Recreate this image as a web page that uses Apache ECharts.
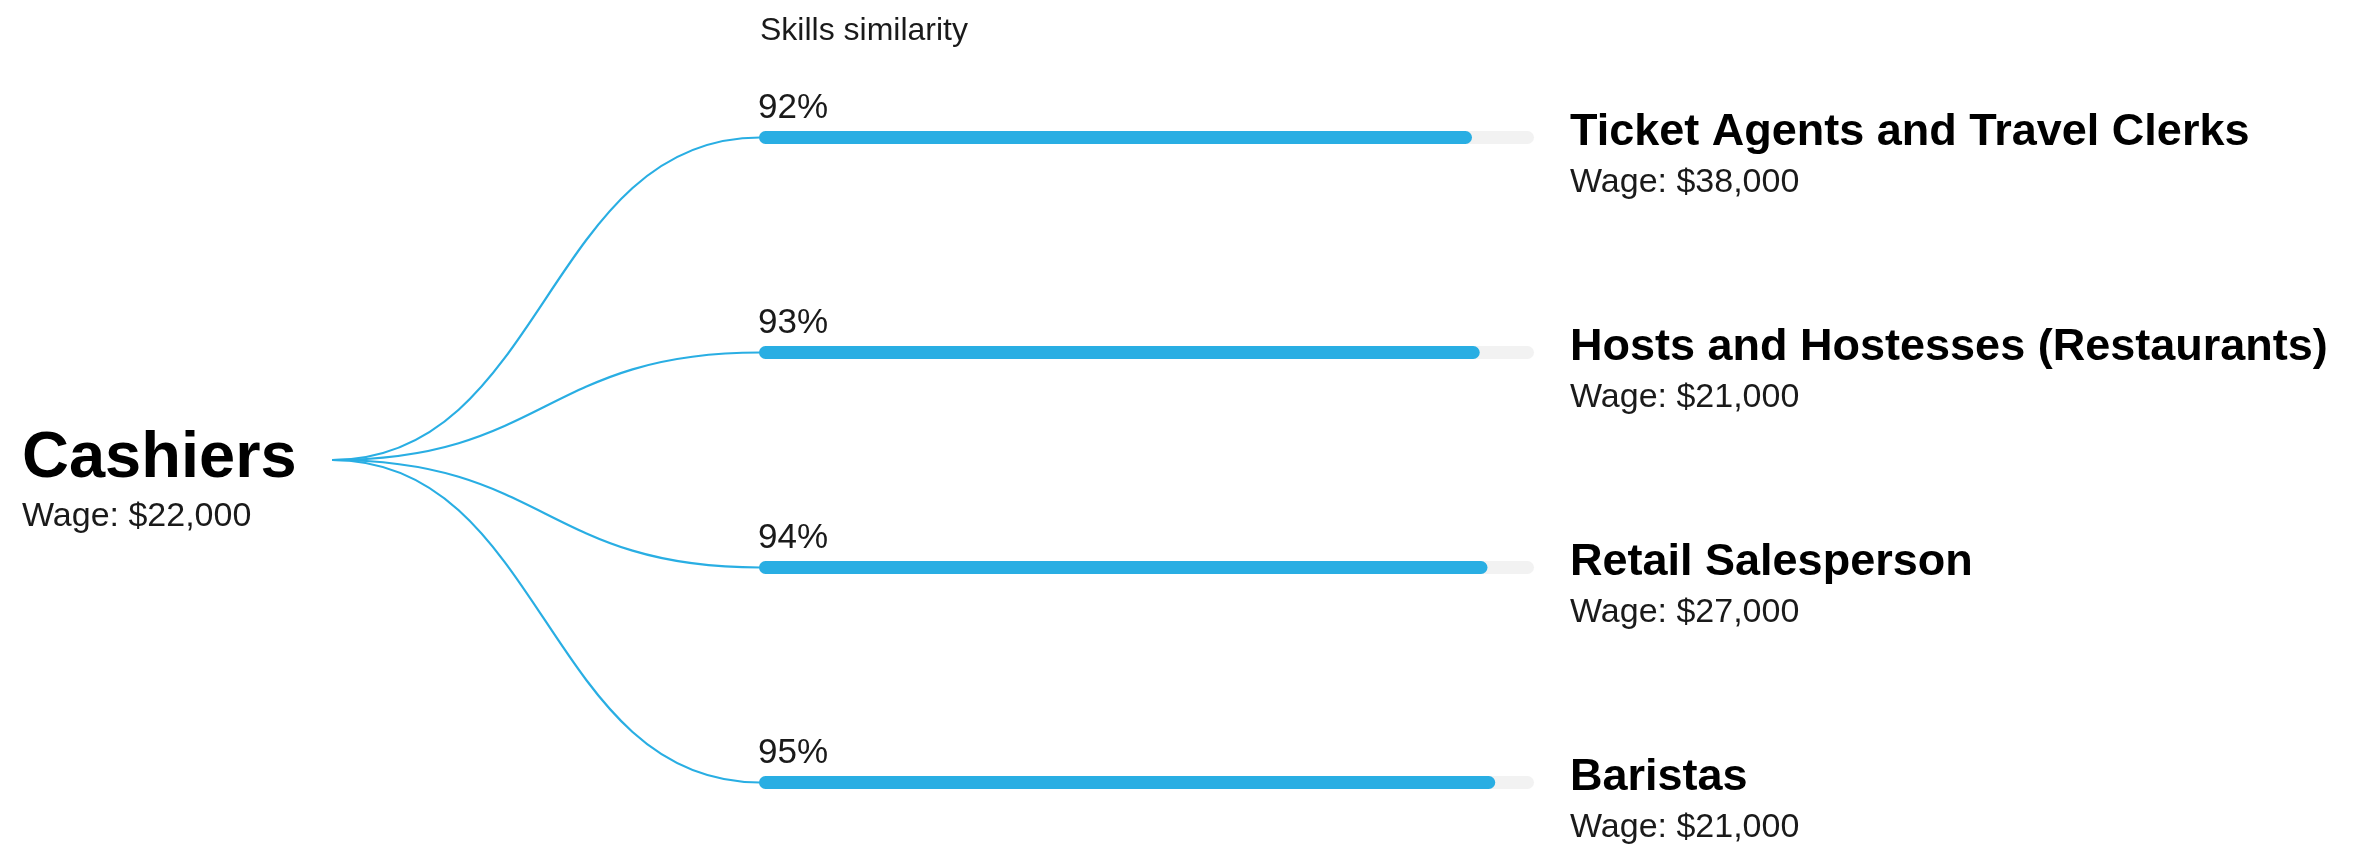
<!DOCTYPE html>
<html>
<head>
<meta charset="utf-8">
<script src="https://cdn.jsdelivr.net/npm/echarts@6/dist/echarts.min.js"></script>
<style>
  html, body { margin: 0; padding: 0; background: #fff; }
  #chart { width: 2353px; height: 846px; }
</style>
</head>
<body>
<div id="chart"></div>
<script>
const sourceName = 'Cashiers';
const sourceWage = 22000;
const occupations = ['Ticket Agents and Travel Clerks', 'Hosts and Hostesses (Restaurants)', 'Retail Salesperson', 'Baristas'];
const similarity = [92, 93, 94, 95];
const wages = [38000, 21000, 27000, 21000];

const blue = '#29aee3';
const font = 'Liberation Sans, Arial, sans-serif';

function wageText(w) {
    return 'Wage: $' + echarts.format.addCommas(w);
}

// source sits in the middle of the targets
const sourcePos = (occupations.length - 1) / 2;
var links = [];
for (var i = 0; i < occupations.length; i++) {
    links.push([sourcePos, i]);
}

var chartDom = document.getElementById('chart');
var myChart = echarts.init(chartDom, null, { renderer: 'canvas' });

var option = {
    backgroundColor: '#fff',
    animation: false,
    title: {
        text: 'Skills similarity',
        left: 760,
        top: 15,
        padding: 0,
        textStyle: { fontFamily: font, fontSize: 32, fontWeight: 'normal', color: '#1a1a1a' }
    },
    grid: [
        { left: 759, width: 775, top: 30, height: 860, outerBoundsMode: 'none', containLabel: false },
        { left: 332, width: 427, top: 30, height: 860, outerBoundsMode: 'none', containLabel: false }
    ],
    xAxis: [
        { gridIndex: 0, type: 'value', min: 0, max: 100, show: false },
        { gridIndex: 1, type: 'value', min: 0, max: 1, show: false }
    ],
    yAxis: [
        {
            gridIndex: 0,
            type: 'category',
            data: occupations,
            inverse: true,
            position: 'right',
            axisLine: { show: false },
            axisTick: { show: false },
            axisLabel: {
                margin: 36,
                align: 'left',
                padding: [40, 0, 0, 0],
                formatter: function (value, idx) {
                    return '{name|' + value + '}\n{wage|' + wageText(wages[idx]) + '}';
                },
                rich: {
                    name: { fontFamily: font, fontSize: 45, fontWeight: 'bold', color: '#000', lineHeight: 50 },
                    wage: { fontFamily: font, fontSize: 34, color: '#1a1a1a', lineHeight: 50 }
                }
            }
        },
        { gridIndex: 1, type: 'value', min: -0.5, max: 3.5, inverse: true, show: false }
    ],
    series: [
        {
            type: 'bar',
            xAxisIndex: 0,
            yAxisIndex: 0,
            data: similarity,
            barWidth: 13,
            itemStyle: { color: blue, borderRadius: 6.5 },
            showBackground: true,
            backgroundStyle: { color: '#f2f2f2', borderRadius: 6.5 },
            label: {
                show: true,
                position: [-1, -23],
                align: 'left',
                verticalAlign: 'middle',
                formatter: '{c}%',
                fontFamily: font,
                fontSize: 35,
                color: '#1a1a1a'
            }
        },
        {
            type: 'custom',
            xAxisIndex: 1,
            yAxisIndex: 1,
            data: links,
            renderItem: function (params, api) {
                var p0 = api.coord([0, api.value(0)]);
                var p1 = api.coord([1, api.value(1)]);
                var mx = (p0[0] + p1[0]) / 2;
                return {
                    type: 'bezierCurve',
                    shape: {
                        x1: p0[0], y1: p0[1],
                        cpx1: mx, cpy1: p0[1],
                        cpx2: mx, cpy2: p1[1],
                        x2: p1[0] + 1, y2: p1[1]
                    },
                    style: { fill: null, stroke: blue, lineWidth: 2.2 }
                };
            }
        }
    ],
    graphic: [
        {
            type: 'text',
            left: 22,
            top: 427,
            style: {
                text: sourceName,
                fontFamily: font,
                fontSize: 65,
                fontWeight: 'bold',
                fill: '#000'
            }
        },
        {
            type: 'text',
            left: 22,
            top: 500,
            style: {
                text: wageText(sourceWage),
                fontFamily: font,
                fontSize: 34,
                fill: '#1a1a1a'
            }
        }
    ]
};

option && myChart.setOption(option);
</script>
</body>
</html>
